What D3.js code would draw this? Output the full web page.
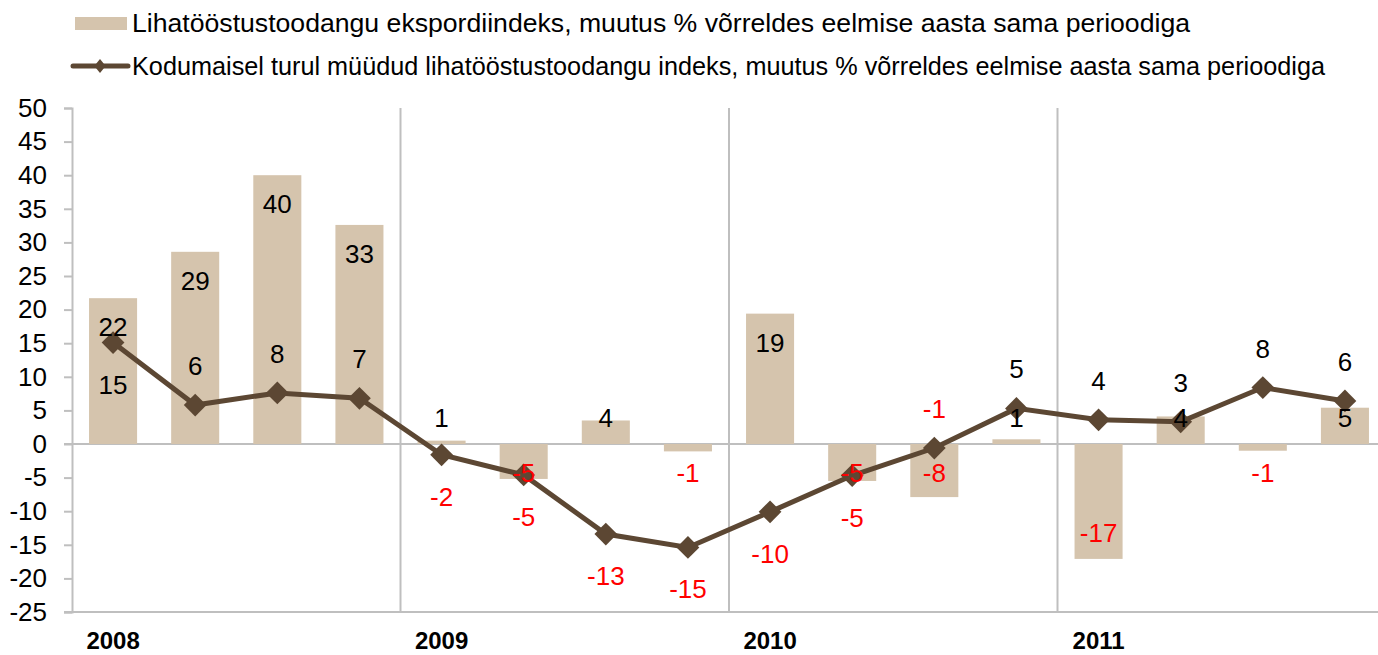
<!DOCTYPE html>
<html>
<head>
<meta charset="utf-8">
<script src="https://cdn.jsdelivr.net/npm/d3@7"></script>
<style>
  body { margin: 0; background: #fff; }
  svg { display: block; font-family: "Liberation Sans", Arial, sans-serif; }
</style>
</head>
<body>
<div id="chart"></div>
<script>
// data
var years = ["2008", "2009", "2010", "2011"];
var quarters = ["I", "II", "III", "IV"];
var exportIndex = [21.7, 28.6, 40.0, 32.6, 0.5, -5.2, 3.5, -1.1, 19.4, -5.5, -7.9, 0.7, -17.1, 4.1, -1.0, 5.4];
var domesticIndex = [15.1, 5.8, 7.6, 6.8, -1.6, -4.6, -13.4, -15.4, -10.1, -4.7, -0.6, 5.3, 3.6, 3.3, 8.4, 6.4];
var yTicks = [-25, -20, -15, -10, -5, 0, 5, 10, 15, 20, 25, 30, 35, 40, 45, 50];
var seriesNames = [
    "Lihatööstustoodangu ekspordiindeks, muutus % võrreldes eelmise aasta sama perioodiga",
    "Kodumaisel turul müüdud lihatööstustoodangu indeks, muutus % võrreldes eelmise aasta sama perioodiga"
];

var categories = [];
years.forEach(function (y) {
    quarters.forEach(function (q) { categories.push(y + " " + q); });
});

// line labels that sit under the marker
var belowLabels = [0, 4, 5, 6, 7, 8, 9];

var width = 1378, height = 655;
var barColor = "#d5c4ad", lineColor = "#5c4733", gridColor = "#bfbfbf";

var svg = d3.select("#chart").append("svg")
    .attr("width", width)
    .attr("height", height);

var x = d3.scaleBand()
    .domain(categories)
    .range([72, 1386])
    .paddingInner(0.415)
    .paddingOuter(0.2075);

var y = d3.scaleLinear()
    .domain([-25, 50])
    .range([612, 108]);

function cx(i) { return x(categories[i]) + x.bandwidth() / 2; }

// y axis
var yAxis = svg.append("g")
    .attr("transform", "translate(72,0)")
    .call(d3.axisLeft(y).tickValues(yTicks).tickSize(8).tickPadding(17).tickFormat(d3.format("d")));
yAxis.select(".domain").attr("stroke", gridColor).attr("stroke-width", 2);
yAxis.selectAll(".tick line").attr("stroke", gridColor).attr("stroke-width", 2);
yAxis.selectAll(".tick text")
    .attr("font-size", "26px")
    .attr("fill", "#000")
    .text(function (d) { return d < 0 ? "-" + Math.abs(d) : d; });

// year separators
var step = x.step();
svg.selectAll(".sep")
    .data([4, 8, 12])
    .enter().append("line")
    .attr("x1", function (d) { return x(categories[d]) - step * 0.415 / 2; })
    .attr("x2", function (d) { return x(categories[d]) - step * 0.415 / 2; })
    .attr("y1", y(50))
    .attr("y2", y(-25))
    .attr("stroke", gridColor)
    .attr("stroke-width", 2);

// bottom line and zero line
[-25, 0].forEach(function (v) {
    svg.append("line")
        .attr("x1", 64).attr("x2", width)
        .attr("y1", y(v)).attr("y2", y(v))
        .attr("stroke", gridColor)
        .attr("stroke-width", 2);
});

// x axis (years)
var xAxis = svg.append("g")
    .attr("transform", "translate(0," + y(-25) + ")")
    .call(d3.axisBottom(x).tickSize(0).tickPadding(20)
        .tickFormat(function (d) { return d.slice(-2) === " I" ? d.slice(0, 4) : ""; }));
xAxis.select(".domain").remove();
xAxis.selectAll(".tick text")
    .attr("font-size", "24px")
    .attr("font-weight", "bold")
    .attr("fill", "#000");

// bars
svg.selectAll(".bar")
    .data(exportIndex)
    .enter().append("rect")
    .attr("class", "bar")
    .attr("x", function (d, i) { return x(categories[i]); })
    .attr("width", x.bandwidth())
    .attr("y", function (d) { return y(Math.max(0, d)); })
    .attr("height", function (d) { return Math.abs(y(d) - y(0)); })
    .attr("fill", barColor);

// line
var line = d3.line()
    .x(function (d, i) { return cx(i); })
    .y(function (d) { return y(d); });

svg.append("path")
    .datum(domesticIndex)
    .attr("d", line)
    .attr("fill", "none")
    .attr("stroke", lineColor)
    .attr("stroke-width", 5);

var diamond = d3.symbol().type(d3.symbolDiamond2).size(330);
svg.selectAll(".marker")
    .data(domesticIndex)
    .enter().append("path")
    .attr("transform", function (d, i) { return "translate(" + cx(i) + "," + y(d) + ")"; })
    .attr("d", diamond)
    .attr("fill", lineColor);

function fmt(v) {
    var r = Math.round(v);
    return r < 0 ? "-" + Math.abs(r) : String(r);
}

// bar labels
svg.selectAll(".barLabel")
    .data(exportIndex)
    .enter().append("text")
    .attr("x", function (d, i) { return cx(i); })
    .attr("y", function (d) {
        return d >= 0 ? Math.min(y(d) + 38, y(0) - 17) : Math.max(y(d) - 17, y(0) + 38);
    })
    .attr("text-anchor", "middle")
    .attr("font-size", "26px")
    .attr("fill", function (d) { return d < 0 ? "#ff0000" : "#000"; })
    .text(fmt);

// line labels
svg.selectAll(".lineLabel")
    .data(domesticIndex)
    .enter().append("text")
    .attr("x", function (d, i) { return cx(i); })
    .attr("y", function (d, i) { return belowLabels.indexOf(i) >= 0 ? y(d) + 51 : y(d) - 30; })
    .attr("text-anchor", "middle")
    .attr("font-size", "26px")
    .attr("fill", function (d) { return d < 0 ? "#ff0000" : "#000"; })
    .text(fmt);

// legend
var legend = svg.append("g");
legend.append("rect")
    .attr("x", 75).attr("y", 17).attr("width", 52).attr("height", 13)
    .attr("fill", barColor);
legend.append("text")
    .attr("x", 132).attr("y", 31.5)
    .attr("font-size", "26.5px")
    .attr("textLength", 1058)
    .attr("lengthAdjust", "spacingAndGlyphs")
    .text(seriesNames[0]);
legend.append("line")
    .attr("x1", 73).attr("x2", 128).attr("y1", 66).attr("y2", 66)
    .attr("stroke", lineColor).attr("stroke-width", 5)
    .attr("stroke-linecap", "round");
legend.append("path")
    .attr("transform", "translate(100,66) scale(0.9,1.1)")
    .attr("d", d3.symbol().type(d3.symbolDiamond2).size(100))
    .attr("fill", lineColor);
legend.append("text")
    .attr("x", 132).attr("y", 75)
    .attr("font-size", "26px")
    .attr("textLength", 1193)
    .attr("lengthAdjust", "spacingAndGlyphs")
    .text(seriesNames[1]);
</script>
</body>
</html>
